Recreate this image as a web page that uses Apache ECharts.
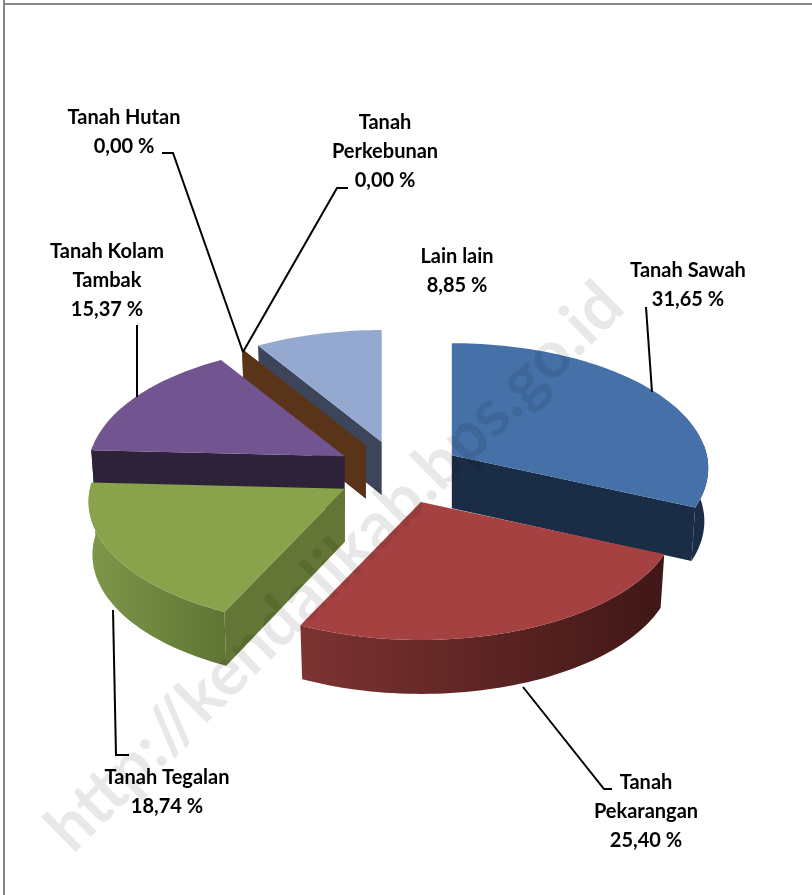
<!DOCTYPE html>
<html>
<head>
<meta charset="utf-8">
<style>html,body{margin:0;padding:0;background:#fff}#c{width:812px;height:895px}</style>
<script src="https://cdn.jsdelivr.net/npm/echarts@6/dist/echarts.min.js"></script>
</head>
<body>
<div id="c"></div>
<script>
// ---- data ----
const categories = ['Tanah Sawah', 'Tanah Pekarangan', 'Tanah Tegalan', 'Tanah Kolam Tambak', 'Tanah Hutan', 'Tanah Perkebunan', 'Lain lain'];
const shares = [31.65, 25.40, 18.74, 15.37, 0.00, 0.00, 8.85];
const labelNames = [['Tanah Sawah'], ['Tanah', 'Pekarangan'], ['Tanah Tegalan'], ['Tanah Kolam', 'Tambak'], ['Tanah Hutan'], ['Tanah', 'Perkebunan'], ['Lain lain']];

// ---- styles & layout ----
const topColors = ['#4571a8', '#a54241', '#88a34c', '#725490', '#5a3418', '#5a3418', '#95a9d0'];
const cutColors = ['#1b2d46', '#421a18', '#637635', '#2d2238', '#5a3418', '#5a3418', '#3c4559'];
const rimStops = [
  ['#1b2d46', '#1b2d46'],
  ['#7d3331', '#3f1716'],
  ['#7e984a', '#5f7433'],
  ['#2d2238', '#2d2238'],
  ['#5a3418', '#5a3418'],
  ['#5a3418', '#5a3418'],
  ['#3c4559', '#3c4559']
];
const paintOrder = [6, 4, 5, 3, 0, 2, 1];
const labelPos = [[688, 285], [646, 812], [167, 792], [107, 281], [124, 132], [385, 152], [457, 271]];
const leaders = [
  [[646, 307], [652, 392]],
  [[523, 687], [604, 789], [612, 789]],
  [[113, 610], [116, 755], [129, 755]],
  [[137, 325], [137, 397]],
  [[162, 153], [173, 153], [243, 352]],
  [[348, 188], [337, 188], [243, 352]]
];
const FONT = 'Lato, "Noto Sans", sans-serif';
const C = {x: 399, y: 472.4, ex: 63, ey: 31.6, rx: 255, ry: 123.6, k: 0.104, depth: 53, dk: 3, shrink: 0.985};

const total = shares.reduce((a, b) => a + b, 0);
const startAngles = [];
shares.reduce((acc, v, i) => { startAngles[i] = acc; return acc + v / total * 360; }, 0);

const rad = d => d * Math.PI / 180;
function project(deg) {
  const u = Math.sin(rad(deg)), v = -Math.cos(rad(deg));
  const w = 1 - C.k * v;
  return {x: C.rx * u / w, y: C.ry * v / w, v: v};
}
function arcPts(a0, a1) {
  const pts = [], n = Math.max(1, Math.ceil(Math.abs(a1 - a0) / 1.5));
  for (let i = 0; i <= n; i++) pts.push(project(a0 + (a1 - a0) * i / n));
  return pts;
}

function renderItem(params, api) {
  const idx = api.value(1), val = api.value(0);
  const a0 = startAngles[idx], a1 = a0 + val / total * 360, mid = (a0 + a1) / 2;
  const ox = C.x + C.ex * Math.sin(rad(mid)), oy = C.y - C.ey * Math.cos(rad(mid));
  const T = p => [ox + p.x, oy + p.y];
  const B = p => [ox + p.x * C.shrink, oy + p.y * C.shrink + C.depth + C.dk * p.v];
  const apex = {x: 0, y: 0, v: 0};
  const children = [];
  const poly = (points, fill) => children.push({type: 'polygon', shape: {points: points}, style: {fill: fill}});

  const lo = Math.max(a0, 85), hi = Math.min(a1, 275);
  if (hi > lo) {
    const arc = arcPts(lo, hi);
    poly(arc.map(T).concat(arc.slice().reverse().map(B)),
      new echarts.graphic.LinearGradient(0, 0, 1, 0, [
        {offset: 0, color: rimStops[idx][0]},
        {offset: 1, color: rimStops[idx][1]}
      ]));
  }
  const cut = ang => { const p = project(ang); poly([T(apex), T(p), B(p), B(apex)], cutColors[idx]); };
  if (Math.sin(rad(a0)) <= 0) cut(a0);
  if (Math.sin(rad(a1)) > 0) cut(a1);
  if (a1 > a0) poly([T(apex)].concat(arcPts(a0, a1).map(T)), topColors[idx]);

  const text = labelNames[idx].concat([val.toFixed(2).replace('.', ',') + ' %']).join('\n');
  children.push({
    type: 'text', x: labelPos[idx][0], y: labelPos[idx][1], z2: 30,
    style: {text: text, font: 'bold 20px ' + FONT, lineHeight: 29, fill: '#000', align: 'center', verticalAlign: 'middle'}
  });
  return {type: 'group', children: children};
}

const chart = echarts.init(document.getElementById('c'), null, {renderer: 'canvas', width: 812, height: 895});
chart.setOption({
  animation: false,
  backgroundColor: '#fff',
  series: [{
    type: 'custom',
    coordinateSystem: 'none',
    silent: true,
    renderItem: renderItem,
    data: paintOrder.map(i => ({name: categories[i], value: [shares[i], i]}))
  }],
  graphic: {elements: [
    {type: 'line', z: 40, shape: {x1: 4, y1: 0, x2: 4, y2: 895}, style: {stroke: '#868686', lineWidth: 2}},
    {type: 'line', z: 40, shape: {x1: 3, y1: 4, x2: 812, y2: 4}, style: {stroke: '#868686', lineWidth: 2}}
  ].concat(leaders.map(l => ({
    type: 'polyline', z: 41, shape: {points: l}, style: {stroke: '#000', lineWidth: 2, fill: null}
  }))).concat([{
    type: 'text', z: 60, x: 335, y: 567, rotation: rad(44.5),
    style: {text: 'http://kendalikab.bps.go.id', font: 'bold 66px ' + FONT, fill: 'rgba(0,0,0,0.09)', align: 'center', verticalAlign: 'middle'}
  }])}
});
</script>
</body>
</html>
